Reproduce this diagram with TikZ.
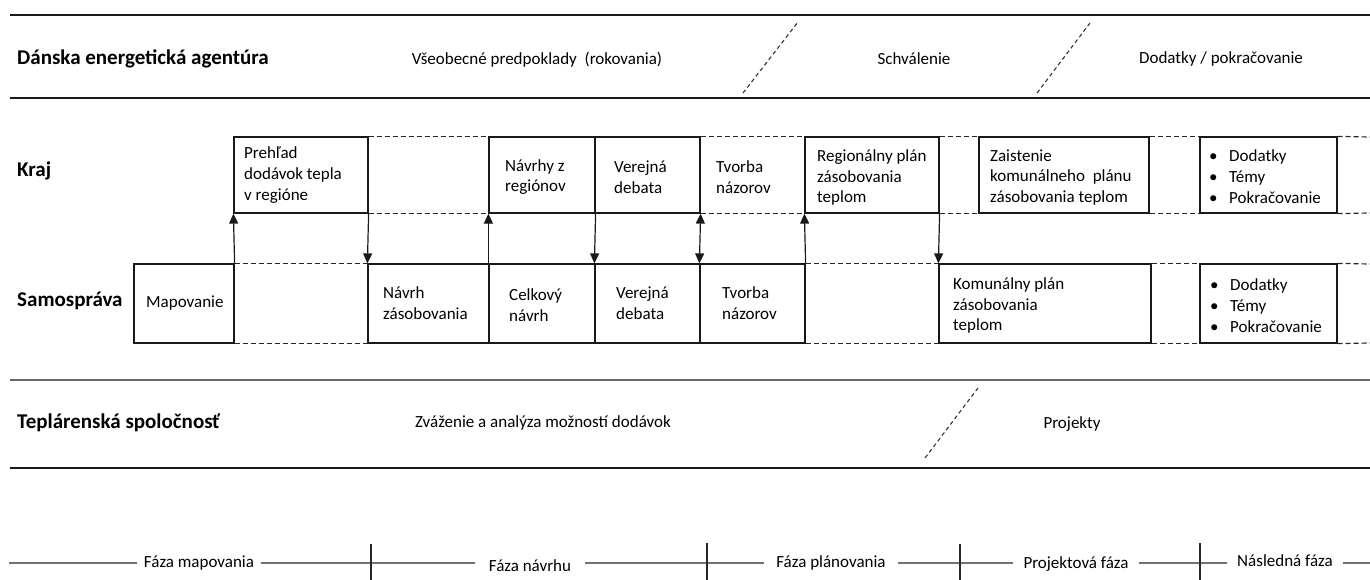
\documentclass[tikz,border=0pt]{standalone}
\usepackage{fontspec}
\setmainfont{Carlito}
\usetikzlibrary{arrows.meta}
\begin{document}
\begin{tikzpicture}[x=1pt,y=-1pt,
  every node/.style={font=\fontsize{17}{20.7}\selectfont, text=black},
  lbl/.style={inner sep=0pt, anchor=west, align=left, yshift=-1.5pt},
  ctr/.style={inner sep=0pt, anchor=center},
  hd/.style={inner sep=0pt, anchor=west, font=\fontsize{21}{25}\selectfont\bfseries},
  box/.style={draw=black!90, line width=1.2pt, inner sep=0pt},
  krow/.style={box, minimum height=76pt},
  srow/.style={box, minimum height=79pt},
  dline/.style={draw=black!85, line width=1.2pt, dash pattern=on 5pt off 3pt},
  diag/.style={draw=black!80, line width=1.1pt, dash pattern=on 4pt off 3pt},
  band/.style={draw=black!90, line width=1.4pt},
  gband/.style={draw=black!60, line width=2.4pt},
  tline/.style={draw=black!55, line width=2pt},
  tick/.style={draw=black!85, line width=1.2pt},
  arr/.style={draw=black!90, line width=1.2pt, -{Triangle[width=9pt,length=10pt]}},
  darr/.style={draw=black!90, line width=1.2pt, {Triangle[width=9pt,length=10pt]}-{Triangle[width=9pt,length=10pt]}},
  timelbl/.style={inner sep=0pt, inner xsep=10pt, anchor=center}
]
\useasboundingbox (0,0) rectangle (1370,580);

% band lines
\coordinate (b1l) at (10,15);  \coordinate (b1r) at (1370,15);
\coordinate (b2l) at (10,98);  \coordinate (b2r) at (1370,98);
\coordinate (b3l) at (10,380); \coordinate (b3r) at (1370,380);
\coordinate (b4l) at (10,468); \coordinate (b4r) at (1370,468);
\draw[band] (b1l) -- (b1r);
\draw[band] (b2l) -- (b2r);
\draw[gband] (b3l) -- (b3r);
\draw[band] (b4l) -- (b4r);

% headers
\node[hd] (hDEA) at (17,59) {Dánska energetická agentúra};
\node[hd] (hKraj) at (17,171) {Kraj};
\node[hd] (hSam) at (17,301) {Samospráva};
\node[hd] (hTep) at (17,423) {Teplárenská spoločnosť};

% top band texts
\node[ctr] (tVseob) at (537,60) {Všeobecné predpoklady\ \ (rokovania)};
\node[ctr] (tSchv) at (914,59) {Schválenie};
\node[ctr] (tDod) at (1221,59) {Dodatky / pokračovanie};
\coordinate (d1a) at (743,93); \coordinate (d1b) at (798,22);
\coordinate (d2a) at (1037,93); \coordinate (d2b) at (1090,23);
\draw[diag] (d1a) -- (d1b);
\draw[diag] (d2a) -- (d2b);

% bottom band texts
\node[ctr] (tZvaz) at (543,423) {Zváženie a analýza možností dodávok};
\node[ctr] (tProj) at (1072,424) {Projekty};
\coordinate (d3a) at (925,458); \coordinate (d3b) at (978,388);
\draw[diag] (d3a) -- (d3b);

% Kraj row boxes
\node[krow, minimum width=134pt] (prehlad) at (301,175) {};
\node[krow, minimum width=106pt] (navrhy) at (542,175) {};
\node[krow, minimum width=105pt] (verK) at (647.5,175) {};
\node[krow, minimum width=134pt] (regio) at (872,175) {};
\node[krow, minimum width=170pt] (zaist) at (1064,175) {};
\node[krow, minimum width=137pt] (bulK) at (1268.5,175) {};
\coordinate (kTopEnd) at (1370,137);
\coordinate (kBotEnd) at (1370,213);

% Samosprava row boxes
\node[srow, minimum width=100pt] (mapov) at (184,303.5) {};
\node[srow, minimum width=121pt] (navrh) at (428.5,303.5) {};
\node[srow, minimum width=106pt] (celk) at (542,303.5) {};
\node[srow, minimum width=105pt] (verS) at (647.5,303.5) {};
\node[srow, minimum width=105pt] (tvorS) at (752.5,303.5) {};
\node[srow, minimum width=212pt] (komun) at (1045,303.5) {};
\node[srow, minimum width=137pt] (bulS) at (1268.5,303.5) {};
\coordinate (sTopEnd) at (1370,264);
\coordinate (sBotEnd) at (1370,343);

% dashed continuations Kraj
\draw[dline] (prehlad.north east) -- (navrhy.north west);
\draw[dline] (prehlad.south east) -- (navrhy.south west);
\draw[dline] (verK.north east) -- (regio.north west);
\draw[dline] (verK.south east) -- (regio.south west);
\draw[dline] (regio.north east) -- (zaist.north west);
\draw[dline] (regio.south east) -- (zaist.south west);
\draw[dline] (zaist.north east) -- (bulK.north west);
\draw[dline] (zaist.south east) -- (bulK.south west);
\draw[dline] (bulK.north east) -- (kTopEnd);
\draw[dline] (bulK.south east) -- (kBotEnd);

% dashed continuations Samosprava
\draw[dline] (mapov.north east) -- (navrh.north west);
\draw[dline] (mapov.south east) -- (navrh.south west);
\draw[dline] (tvorS.north east) -- (komun.north west);
\draw[dline] (tvorS.south east) -- (komun.south west);
\draw[dline] (komun.north east) -- (bulS.north west);
\draw[dline] (komun.south east) -- (bulS.south west);
\draw[dline] (bulS.north east) -- (sTopEnd);
\draw[dline] (bulS.south east) -- (sBotEnd);

% arrows
\draw[arr] (mapov.north east) -- (prehlad.south west);
\draw[arr] (prehlad.south east) -- (navrh.north west);
\draw[arr] (celk.north west) -- (navrhy.south west);
\draw[arr] (navrhy.south east) -- (verS.north west);
\draw[darr] (verK.south east) -- (tvorS.north west);
\draw[arr] (tvorS.north east) -- (regio.south west);
\draw[arr] (regio.south east) -- (komun.north west);

% Kraj texts
\node[lbl] (xPreh) at (244,173.5) {Prehľad\\dodávok tepla\\v regióne};
\node[lbl] (xNavrhy) at (505,175.5) {Návrhy z\\regiónov};
\node[lbl] (xVerK) at (614,175.5) {Verejná\\debata};
\node[lbl] (xTvorK) at (716,175.5) {Tvorba\\názorov};
\node[lbl] (xRegio) at (817,176) {Regionálny plán\\zásobovania\\teplom};
\node[lbl] (xZaist) at (990,176) {Zaistenie\\komunálneho\ \ plánu\\zásobovania teplom};
\node[lbl] (xBulK) at (1209,175) {\makebox[20pt][l]{•}Dodatky\\\makebox[20pt][l]{•}Témy\\\makebox[20pt][l]{•}Pokračovanie};

% Samosprava texts
\node[lbl] (xMapov) at (146,302) {Mapovanie};
\node[lbl] (xNavrh) at (383,301.5) {Návrh\\zásobovania};
\node[lbl] (xCelk) at (509,303.5) {Celkový\\návrh};
\node[lbl] (xVerS) at (616,301.5) {Verejná\\debata};
\node[lbl] (xTvorS) at (722,301.5) {Tvorba\\názorov};
\node[lbl] (xKomun) at (953,304) {Komunálny plán\\zásobovania\\teplom};
\node[lbl] (xBulS) at (1210,304) {\makebox[20pt][l]{•}Dodatky\\\makebox[20pt][l]{•}Témy\\\makebox[20pt][l]{•}Pokračovanie};

% timeline
\coordinate (tl0) at (9,562.5);
\coordinate (tl1) at (1370,562.5);
\node[timelbl, inner xsep=7pt] (fMap) at (199,563) {Fáza mapovania};
\node[timelbl, inner xsep=14pt] (fNav) at (530,566) {Fáza návrhu};
\node[timelbl, inner xsep=12pt] (fPlan) at (831,563) {Fáza plánovania};
\node[timelbl, inner xsep=10pt] (fProj) at (1076,564) {Projektová fáza};
\node[timelbl, inner xsep=10pt] (fNasl) at (1285,561) {Následná fáza};
\draw[tline] (tl0) -- (tl0 -| fMap.west);
\draw[tline] (fMap.east |- tl0) -- (fNav.west |- tl0);
\draw[tline] (fNav.east |- tl0) -- (fPlan.west |- tl0);
\draw[tline] (fPlan.east |- tl0) -- (fProj.west |- tl0);
\draw[tline] (fProj.east |- tl0) -- (fNasl.west |- tl0);
\draw[tline] (fNasl.east |- tl0) -- (tl1);
\coordinate (k1a) at (371,544); \coordinate (k1b) at (371,580);
\coordinate (k2a) at (707,543); \coordinate (k2b) at (707,580);
\coordinate (k3a) at (960,544); \coordinate (k3b) at (960,580);
\coordinate (k4a) at (1200,543); \coordinate (k4b) at (1200,580);
\draw[tick] (k1a) -- (k1b);
\draw[tick] (k2a) -- (k2b);
\draw[tick] (k3a) -- (k3b);
\draw[tick] (k4a) -- (k4b);
\end{tikzpicture}
\end{document}
